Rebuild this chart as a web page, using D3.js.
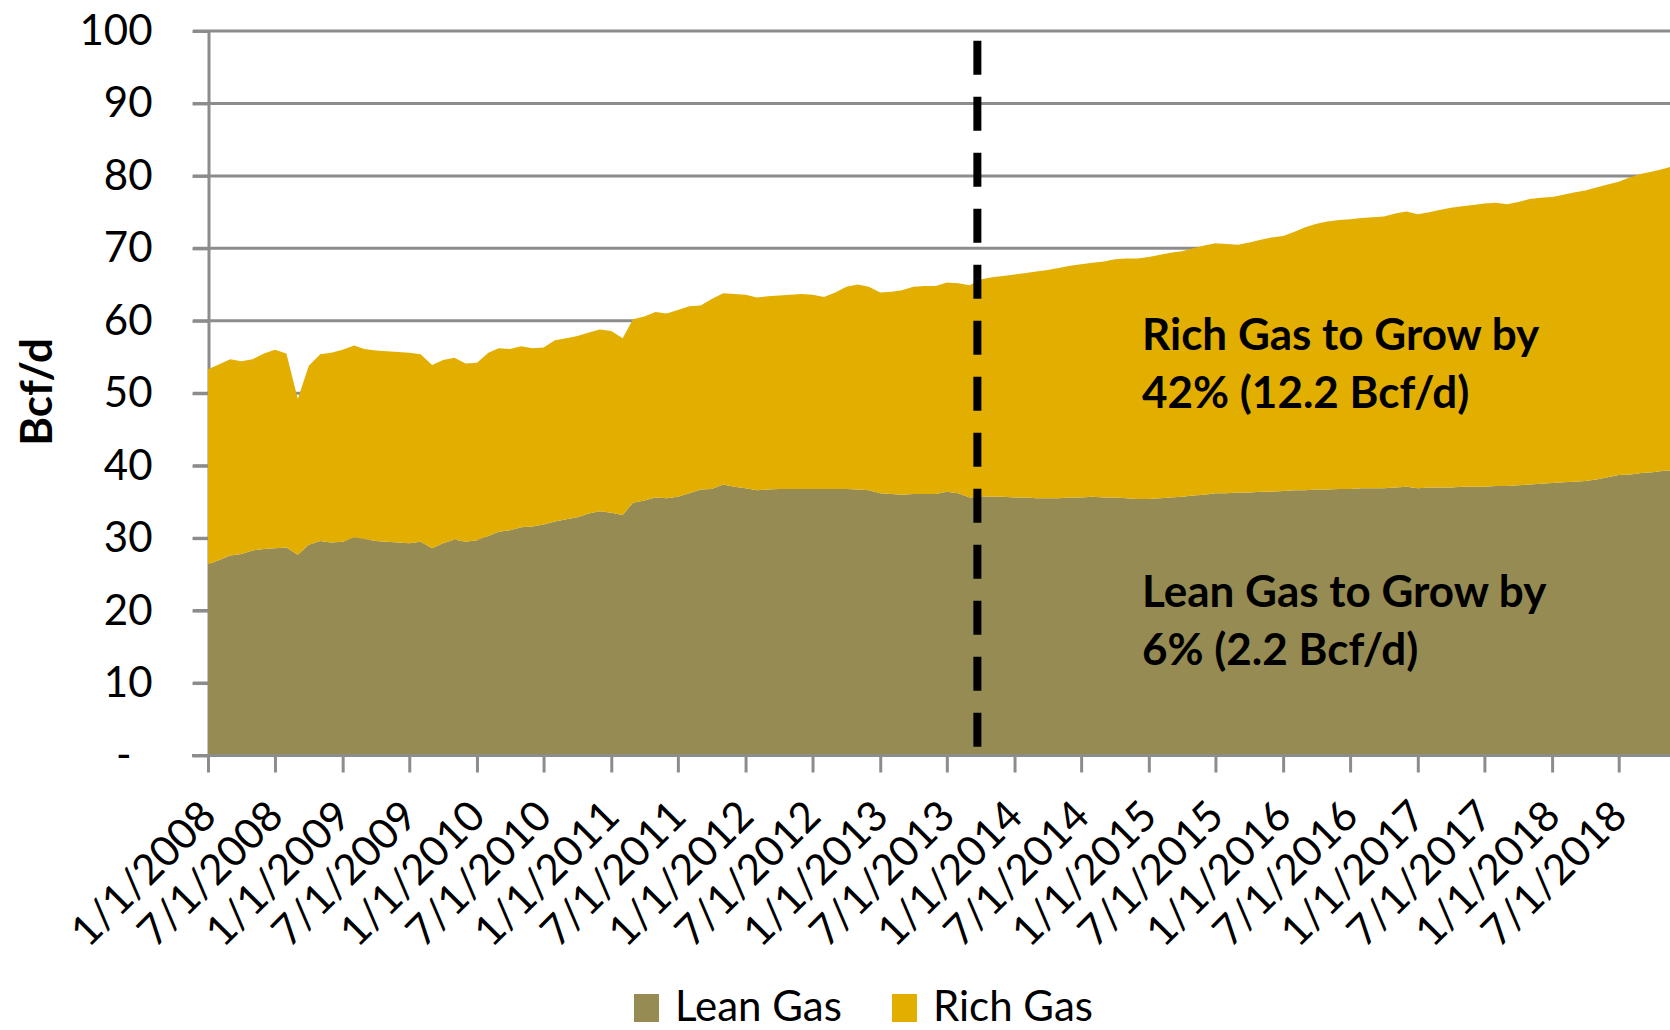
<!DOCTYPE html>
<html>
<head>
<meta charset="utf-8">
<title>Lean vs Rich Gas</title>
<script src="https://d3js.org/d3.v7.min.js"></script>
<style>
  body { margin: 0; background: #fff; }
  text { font-family: Lato, "Open Sans", sans-serif; fill: #000; }
</style>
</head>
<body>
<script>
// monthly production, Bcf/d, Jan 2008 .. Dec 2018
var leanGas = [
  26.4, 27.0, 27.6, 27.8, 28.3, 28.5, 28.6, 28.7, 27.7, 29.1, 29.6, 29.4,
  29.5, 30.1, 29.9, 29.6, 29.5, 29.4, 29.3, 29.5, 28.6, 29.3, 29.8, 29.5,
  29.7, 30.3, 30.9, 31.1, 31.5, 31.6, 31.9, 32.3, 32.6, 32.9, 33.4, 33.7,
  33.5, 33.2, 34.9, 35.2, 35.6, 35.5, 35.7, 36.2, 36.7, 36.8, 37.4, 37.1,
  36.9, 36.6, 36.7, 36.8, 36.8, 36.8, 36.8, 36.8, 36.8, 36.8, 36.7, 36.6,
  36.2, 36.1, 36.0, 36.1, 36.1, 36.1, 36.4, 36.2, 35.6, 35.8, 35.7, 35.7,
  35.6, 35.6, 35.5, 35.5, 35.5, 35.6, 35.6, 35.7, 35.6, 35.6, 35.5, 35.4,
  35.4, 35.5, 35.6, 35.7, 35.9, 36.0, 36.2, 36.2, 36.3, 36.3, 36.4, 36.4,
  36.5, 36.6, 36.6, 36.7, 36.7, 36.8, 36.8, 36.9, 36.9, 36.9, 37.0, 37.1,
  36.9, 37.0, 37.0, 37.0, 37.1, 37.1, 37.1, 37.2, 37.2, 37.3, 37.4, 37.5,
  37.6, 37.7, 37.8, 37.9, 38.1, 38.4, 38.7, 38.8, 39.0, 39.1, 39.3, 39.4
];
var richGas = [
  26.9, 27.0, 27.1, 26.6, 26.4, 27.0, 27.4, 26.8, 21.5, 24.7, 25.8, 26.2,
  26.5, 26.5, 26.2, 26.3, 26.3, 26.3, 26.3, 25.9, 25.3, 25.3, 25.1, 24.6,
  24.5, 25.3, 25.3, 25.0, 25.0, 24.6, 24.4, 25.0, 25.0, 25.0, 25.0, 25.1,
  25.1, 24.4, 25.3, 25.4, 25.6, 25.5, 25.8, 25.8, 25.4, 26.2, 26.4, 26.6,
  26.7, 26.6, 26.7, 26.7, 26.8, 26.9, 26.8, 26.5, 27.1, 27.9, 28.3, 28.1,
  27.7, 27.9, 28.2, 28.6, 28.7, 28.7, 28.9, 29.0, 29.3, 29.9, 30.3, 30.5,
  30.8, 31.0, 31.3, 31.5, 31.8, 32.0, 32.2, 32.3, 32.6, 32.9, 33.1, 33.2,
  33.4, 33.6, 33.8, 33.9, 34.1, 34.4, 34.5, 34.4, 34.2, 34.5, 34.8, 35.1,
  35.2, 35.7, 36.3, 36.7, 37.0, 37.1, 37.2, 37.3, 37.4, 37.5, 37.8, 38.0,
  37.8, 38.0, 38.3, 38.6, 38.7, 38.9, 39.1, 39.1, 38.9, 39.1, 39.4, 39.5,
  39.5, 39.7, 39.9, 40.1, 40.3, 40.4, 40.5, 41.0, 41.3, 41.5, 41.7, 42.0
];
var seriesNames = ['Lean Gas', 'Rich Gas'];
var seriesColors = ['#958B53', '#E2AE00'];
var xTickLabels = [
  '1/1/2008', '7/1/2008', '1/1/2009', '7/1/2009', '1/1/2010', '7/1/2010',
  '1/1/2011', '7/1/2011', '1/1/2012', '7/1/2012', '1/1/2013', '7/1/2013',
  '1/1/2014', '7/1/2014', '1/1/2015', '7/1/2015', '1/1/2016', '7/1/2016',
  '1/1/2017', '7/1/2017', '1/1/2018', '7/1/2018'
];
var yTickValues = [0, 10, 20, 30, 40, 50, 60, 70, 80, 90, 100];
var yTickLabels = ['-', '10', '20', '30', '40', '50', '60', '70', '80', '90', '100'];
var forecastStart = new Date(2013, 8, 22);
var richNote = ['Rich Gas to Grow by', '42% (12.2 Bcf/d)'];
var leanNote = ['Lean Gas to Grow by', '6% (2.2 Bcf/d)'];

var W = 1670, H = 1030;
var gridColor = '#8C8C8C';

var months = d3.timeMonth.range(new Date(2008, 0, 1), new Date(2019, 0, 1));
var parseTick = d3.timeParse('%m/%d/%Y');
var tickDates = xTickLabels.map(function(s) { return parseTick(s); });

var rows = months.map(function(d, i) {
  return { date: d, lean: leanGas[i], rich: richGas[i] };
});
var stacked = d3.stack().keys(['lean', 'rich'])(rows);

var x = d3.scaleTime()
  .domain([tickDates[0], tickDates[tickDates.length - 1]])
  .range([208, 1618.7]);
var y = d3.scaleLinear().domain([0, 100]).range([755.5, 31]);

var svg = d3.select('body').append('svg')
  .attr('width', W)
  .attr('height', H);

// gridlines
svg.append('g').selectAll('line')
  .data(yTickValues.slice(1))
  .enter().append('line')
  .attr('x1', 193).attr('x2', W)
  .attr('y1', function(d) { return y(d); })
  .attr('y2', function(d) { return y(d); })
  .attr('stroke', gridColor)
  .attr('stroke-width', 3);

// y axis
var yAxis = svg.append('g')
  .attr('transform', 'translate(208.5,0)')
  .call(d3.axisLeft(y)
    .tickValues(yTickValues)
    .tickFormat(function(d, i) { return yTickLabels[i]; })
    .tickSize(16)
    .tickSizeOuter(0)
    .tickPadding(40));
yAxis.select('.domain').attr('stroke', gridColor).attr('stroke-width', 3);
yAxis.selectAll('.tick line').attr('stroke', gridColor).attr('stroke-width', 3);
yAxis.selectAll('.tick text')
  .attr('font-size', 42)
  .attr('font-family', 'Lato')
  .attr('fill', '#000')
  .attr('dx', function(d) { return d === 0 ? -21 : 0; });

// areas
var area = d3.area()
  .x(function(d) { return x(d.data.date); })
  .y0(function(d) { return y(d[0]); })
  .y1(function(d) { return y(d[1]); });

svg.append('g').selectAll('path')
  .data(stacked)
  .enter().append('path')
  .attr('d', area)
  .attr('fill', function(d, i) { return seriesColors[i]; });

// x axis
var xAxis = svg.append('g')
  .attr('transform', 'translate(0,755.5)')
  .call(d3.axisBottom(x)
    .tickValues(tickDates)
    .tickFormat(function(d, i) { return xTickLabels[i]; })
    .tickSize(17)
    .tickSizeOuter(0));
xAxis.select('.domain').remove();
xAxis.append('line')
  .attr('x1', 192).attr('x2', W)
  .attr('stroke', gridColor)
  .attr('stroke-width', 3);
xAxis.selectAll('.tick line').attr('stroke', gridColor).attr('stroke-width', 3);
xAxis.selectAll('.tick text')
  .attr('font-size', 42)
  .attr('font-family', 'Lato')
  .attr('fill', '#000')
  .attr('y', 0)
  .attr('dy', 0)
  .attr('text-anchor', 'end')
  .attr('transform', 'translate(10,63) rotate(-45)');

// forecast marker
svg.append('line')
  .attr('x1', x(forecastStart)).attr('x2', x(forecastStart))
  .attr('y1', 40.7).attr('y2', 750)
  .attr('stroke', '#000')
  .attr('stroke-width', 8)
  .attr('stroke-dasharray', '34,22');

// y title
svg.append('text')
  .attr('transform', 'translate(52,392) rotate(-90)')
  .attr('text-anchor', 'middle')
  .attr('font-size', 44)
  .attr('font-weight', 'bold')
  .text('Bcf/d');

// notes
function addNote(lines, yTop) {
  var t = svg.append('text')
    .attr('x', 1142)
    .attr('y', yTop)
    .attr('font-size', 44)
    .attr('font-weight', 'bold');
  t.selectAll('tspan')
    .data(lines)
    .enter().append('tspan')
    .attr('x', 1142)
    .attr('dy', function(d, i) { return i === 0 ? 0 : 58; })
    .text(function(d) { return d; });
}
addNote(richNote, 350);
addNote(leanNote, 607);

// legend
var legendX = [634, 892];
var legend = svg.append('g').selectAll('g')
  .data(seriesNames)
  .enter().append('g')
  .attr('transform', function(d, i) { return 'translate(' + legendX[i] + ',994)'; });
legend.append('rect')
  .attr('width', 25)
  .attr('height', 28)
  .attr('fill', function(d, i) { return seriesColors[i]; });
legend.append('text')
  .attr('x', 41)
  .attr('y', 26.5)
  .attr('font-size', 42)
  .text(function(d) { return d; });
</script>
</body>
</html>
